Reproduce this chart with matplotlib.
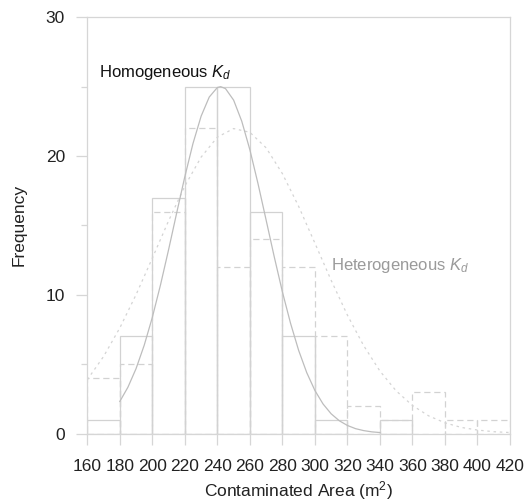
import matplotlib
matplotlib.use("Agg")
import matplotlib.pyplot as plt

# histogram bins (left edges, width 20 m^2)
bin_edges = [160, 180, 200, 220, 240, 260, 280, 300, 320, 340, 360, 380, 400]
homog_counts = [1, 7, 17, 25, 25, 16, 7, 1, 0, 1, 0, 0, 0]
heterog_counts = [4, 5, 16, 22, 12, 14, 12, 7, 2, 1, 3, 1, 1]

# fitted normal curves
homog_curve_x = [180, 185, 190, 195, 200, 205, 210, 215, 220, 225, 230, 235,
                 240, 242, 245, 250, 255, 260, 265, 270, 275, 280, 285, 290,
                 295, 300, 305, 310, 315, 320, 325, 330, 335, 340]
homog_curve_y = [2.31, 3.34, 4.68, 6.36, 8.37, 10.70, 13.25, 15.91, 18.52,
                 20.90, 22.87, 24.25, 24.94, 25.0, 24.86, 24.03, 22.51, 20.45,
                 18.01, 15.38, 12.73, 10.21, 7.95, 5.99, 4.38, 3.10, 2.13,
                 1.42, 0.92, 0.58, 0.35, 0.21, 0.12, 0.07]
heterog_curve_x = [160, 170, 180, 190, 200, 210, 220, 230, 240, 250, 260, 270,
                   280, 290, 300, 310, 320, 330, 340, 350, 360, 370, 380, 390,
                   400, 410, 420]
heterog_curve_y = [3.88, 5.55, 7.61, 10.01, 12.64, 15.33, 17.84, 19.92, 21.36,
                   21.98, 21.71, 20.59, 18.73, 16.37, 13.72, 11.04, 8.53, 6.33,
                   4.50, 3.07, 2.02, 1.27, 0.77, 0.44, 0.25, 0.13, 0.07]

x_ticks = list(range(160, 421, 20))
y_ticks = [0, 10, 20, 30]

plt.rcParams["font.family"] = ["Liberation Sans", "DejaVu Sans"]
plt.rcParams["mathtext.fontset"] = "custom"
plt.rcParams["mathtext.rm"] = "Liberation Sans"
plt.rcParams["mathtext.it"] = "Liberation Sans:italic"

fig = plt.figure(figsize=(5.24, 5.01), dpi=100)
ax = fig.add_axes([0.1666, 0.1347, 0.9733 - 0.1666, 0.9655 - 0.1347])

grey_line = "#d2d2d2"

# heterogeneous histogram (dashed) drawn first, homogeneous (solid) on top
het_x = [b for b, c in zip(bin_edges, heterog_counts) if c > 0]
het_h = [c for c in heterog_counts if c > 0]
ax.bar(het_x, het_h, width=20, align="edge", fill=False,
       edgecolor=grey_line, linestyle=(0, (5, 3)), linewidth=0.9)

hom_x = [b for b, c in zip(bin_edges, homog_counts) if c > 0]
hom_h = [c for c in homog_counts if c > 0]
ax.bar(hom_x, hom_h, width=20, align="edge", fill=False,
       edgecolor=grey_line, linestyle="-", linewidth=0.9)

ax.plot(heterog_curve_x, heterog_curve_y, color="#d4d4d4", linestyle=(0, (2, 3)),
        linewidth=0.9)
ax.plot(homog_curve_x, homog_curve_y, color="#bdbdbd", linestyle="-", linewidth=0.9)

ax.text(167, 25.7, r"Homogeneous $K_d$", fontsize=12, color="#111111")
ax.text(310, 11.8, r"Heterogeneous $K_d$", fontsize=12, color="#9a9a9a")

ax.set_xlim(160, 420)
ax.set_ylim(0, 30)
ax.set_xticks(x_ticks)
ax.set_yticks(y_ticks)
ax.set_yticks([5, 15, 25], minor=True)

for s in ax.spines.values():
    s.set_color("#d6d6d6")
    s.set_linewidth(0.9)

ax.tick_params(axis="both", which="major", length=8, width=0.9, color="#d6d6d6",
               labelsize=12.5, labelcolor="#222222")
ax.tick_params(axis="x", which="major", pad=10)
ax.tick_params(axis="y", which="major", pad=8)
ax.tick_params(axis="y", which="minor", length=4, width=0.9, color="#d6d6d6")

ax.set_xlabel("Contaminated Area (m$^2$)", fontsize=12.5, color="#222222", labelpad=4)
ax.set_ylabel("Frequency", fontsize=12.5, color="#222222", labelpad=14)

fig.savefig("out.png", dpi=100)
